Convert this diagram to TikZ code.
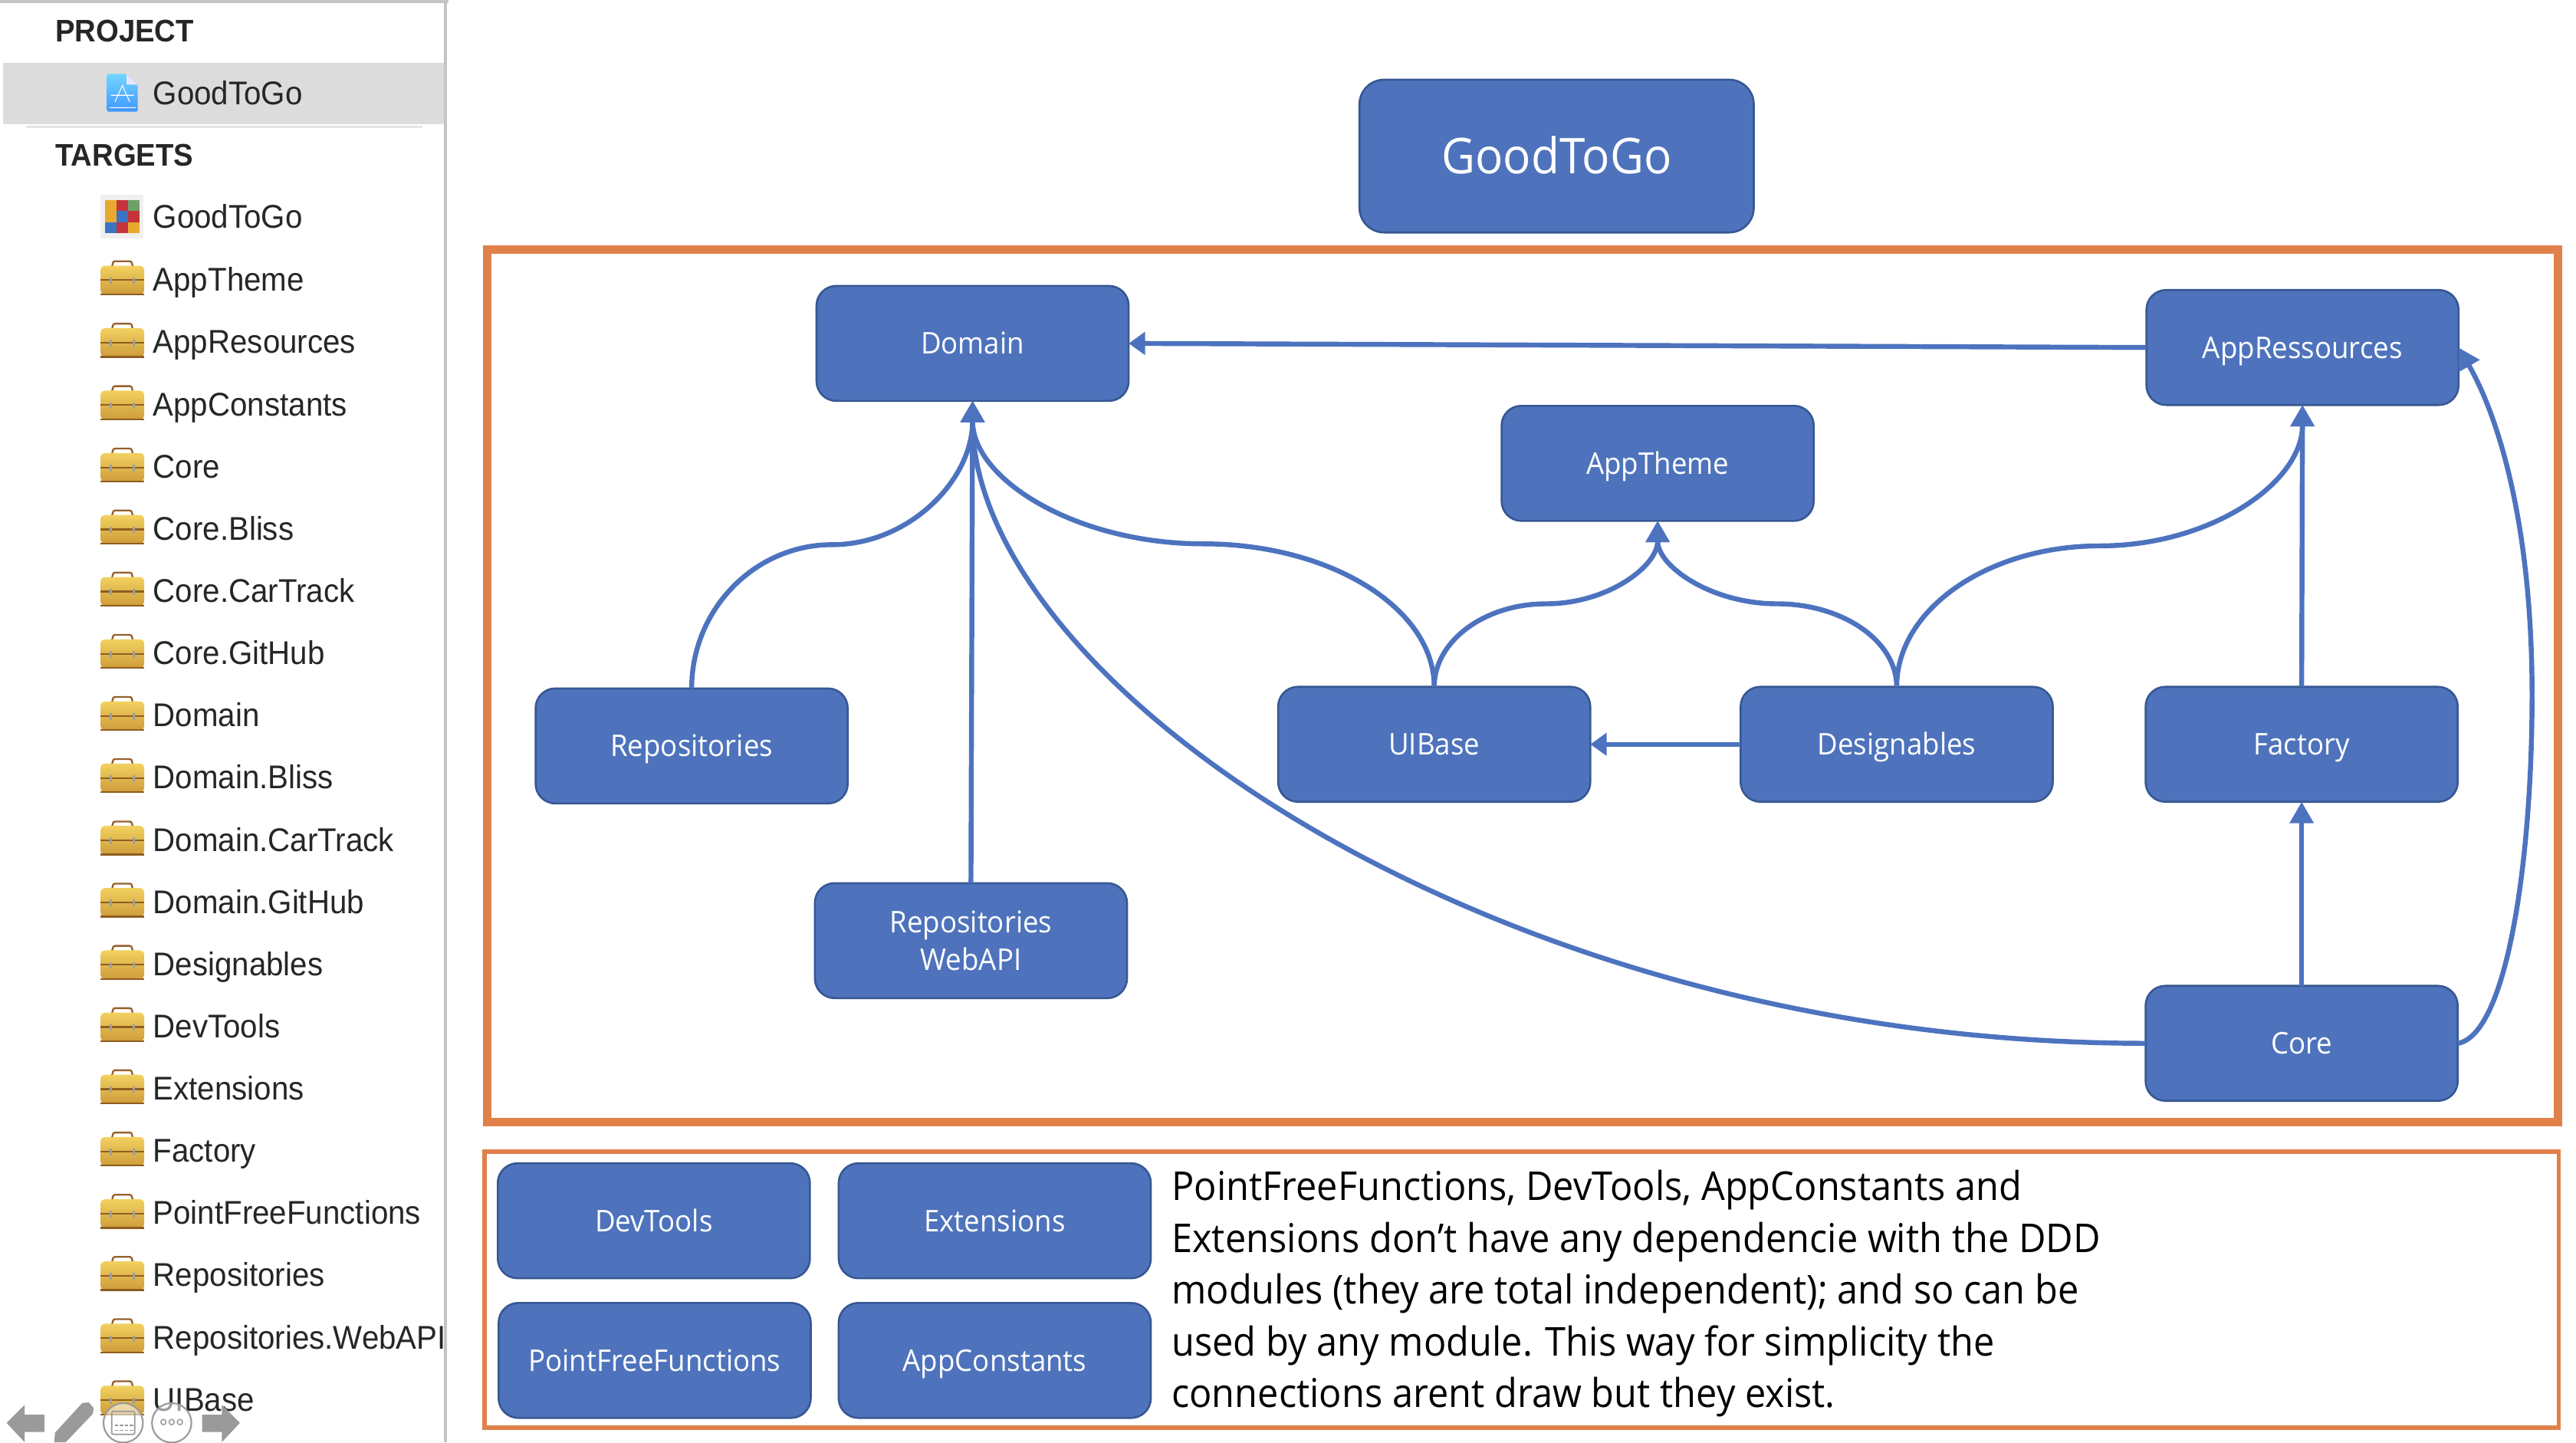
\documentclass[tikz,border=0pt]{standalone}
\usepackage{fontspec}
\setmainfont[FakeStretch=0.94]{Open Sans}
\newfontfamily\sidefont[FakeStretch=0.94]{Liberation Sans}
\usetikzlibrary{calc,arrows.meta}
\definecolor{modfill}{HTML}{4E73BC}
\definecolor{modedge}{HTML}{365792}
\definecolor{lineblue}{HTML}{4D73BF}
\definecolor{frameorange}{HTML}{E0814A}
\definecolor{sidegray}{HTML}{C4C4C4}
\definecolor{selgray}{HTML}{DCDCDC}
\definecolor{tbgray}{HTML}{9A9A9A}
\definecolor{boxtop}{HTML}{F2D160}
\definecolor{boxbot}{HTML}{CE9C3A}
\definecolor{boxband}{HTML}{8E5E20}
\definecolor{boxhandle}{HTML}{96612B}
\tikzset{
  modbase/.style={draw=modedge,fill=modfill,line width=1.2pt,rounded corners=12pt,minimum width=190pt,minimum height=70pt,text=white,font=\fontsize{18.2}{23}\selectfont,align=center,outer sep=0pt,inner sep=0pt},
  module/.style={modbase,text height=13pt,text depth=0pt},
  conn/.style={draw=lineblue,line width=3pt,-{Triangle[length=13pt,width=14pt]}},
  connh/.style={draw=lineblue,line width=3pt,-{Triangle[length=10pt,width=13.5pt]}},
  sidetext/.style={anchor=base west,inner sep=0pt,text=black!85,font=\sidefont\fontsize{20}{24}\selectfont},
  sidehead/.style={anchor=base west,inner sep=0pt,text=black!85,font=\sidefont\bfseries\fontsize{19}{24}\selectfont},
  toolbox/.pic={
    \draw[draw=boxhandle,line width=1.1pt,rounded corners=1pt] (-6.5,-7) -- (-5.5,-11) -- (5.5,-11) -- (6.5,-7);
    \shade[top color=boxtop,bottom color=boxbot,rounded corners=2.5pt] (-13.3,9.2) rectangle (13.3,-8.3);
    \fill[boxband] (-13.3,0) rectangle (13.3,1);
    \fill[boxband] (-13.3,8.6) rectangle (13.3,9.7);
    \fill[gray!75] (-7.8,-1.2) rectangle (-6.3,2.8);
    \fill[gray!75] (6.3,-1.2) rectangle (7.8,2.8);
  },
}
\newcommand{\scurve}[3]{\draw[conn] (#1) .. controls ($(#1)!.55!(#1|-#2)$) and ($(#2)!.55!(#1|-#2)$) .. (#2) .. controls ($(#2)!.55!(#3|-#2)$) and ($(#3)!.55!(#3|-#2)$) .. (#3);}
\begin{document}
\begin{tikzpicture}[x=1pt,y=-1pt]
\useasboundingbox (0,0) rectangle (1568,877.8);
\fill[white] (0,0) rectangle (1568,877.8);
% sidebar
\fill[sidegray] (0,0.2) rectangle (273,1.8);
\fill[sidegray] (270.2,0) rectangle (272,877.8);
\fill[selgray] (2,38.5) rectangle (270.2,75.5);
\fill[black!10] (16,76.4) rectangle (257,78);
\node[sidehead] (hproj) at (33.5,25.5) {PROJECT};
\node[sidehead] (htarg) at (33.5,101) {TARGETS};
\node[sidetext] (sproj) at (93,63.5) {GoodToGo};
% project icon
\shade[top color=blue!30!cyan!55!white,bottom color=blue!55!cyan!75!white,rounded corners=1pt] (65.2,45) -- (77,45) -- (83.8,51.5) -- (83.8,68) -- (65.2,68) -- cycle;
\fill[white!90!blue] (77,45) -- (83.8,51.5) -- (77,51.5) -- cycle;
\draw[white,line width=0.5pt] (66.5,65.5) -- (82.5,65.5) (70,62) -- (74.5,52) -- (79,62) (67.5,58) -- (81.5,58);
% targets
\fill[black!6] (61.1,118.5) rectangle (87.3,145);
\foreach \c [count=\i from 0] in {E8A92F,C4343A,6FA068,E8A92F,3B74C4,C4343A,3B74C4,C4343A,E8A92F}{
  \definecolor{cellc}{HTML}{\c}
  \pgfmathsetmacro{\cx}{64.1+7*mod(\i,3)}
  \pgfmathsetmacro{\cy}{121.8+6.7*floor(\i/3)}
  \fill[cellc] (\cx,\cy) rectangle ++(6.9,6.6);
}
\node[sidetext] (s0) at (93,139) {GoodToGo};
\foreach \t/\yy [count=\n] in {AppTheme/170,AppResources/208,AppConstants/246,Core/284,Core.Bliss/321.7,Core.CarTrack/359.5,Core.GitHub/397.4,Domain/435.2,Domain.Bliss/473,Domain.CarTrack/511,Domain.GitHub/548.8,Designables/586.7,DevTools/624.6,Extensions/662.4,Factory/700.3,PointFreeFunctions/738.2,Repositories/776,Repositories.WebAPI/813.9,UIBase/851.7}{
  \pic at (74.5,\yy) {toolbox};
  \node[sidetext] (s\n) at (93,\yy+7) {\t};
}
% bottom toolbar
\fill[tbgray] (4,866) -- (15,855) -- (15,861) -- (27,861) -- (27,871.5) -- (15,871.5) -- (15,877.8) -- cycle;
\fill[tbgray] (50,854) -- (54,853.5) -- (57,857) -- (56.5,860.5) -- (40,877.8) -- (33,877.8) -- (33.5,872) -- cycle;
\fill[white,opacity=0.55] (75,866) circle (12);
\draw[tbgray,line width=1pt] (75,866) circle (12);
\draw[tbgray,line width=0.8pt,rounded corners=1pt] (68,859) rectangle (82,873);
\draw[tbgray,line width=0.8pt,dash pattern=on 2pt off 1pt] (70,867.5) -- (81,867.5) (70,870.5) -- (81,870.5);
\fill[white,opacity=0.55] (104.5,866) circle (12);
\draw[tbgray,line width=1pt] (104.5,866) circle (12);
\foreach \d in {-5,0,5}{\draw[tbgray,line width=0.7pt] (104.5+\d,865.5) circle (1.6);}
\fill[tbgray] (146,866) -- (135,855) -- (135,861) -- (123,861) -- (123,871.5) -- (135,871.5) -- (135,877.8) -- cycle;
% frames
\draw[frameorange,line width=5pt] (296.5,152) rectangle (1557,683);
\draw[frameorange,line width=2.5pt] (295,701) rectangle (1557.5,869);
% top module
\node[module,minimum width=240pt,minimum height=93pt,rounded corners=15pt,font=\fontsize{30}{34}\selectfont,text height=21pt] (app) at (947.5,95) {GoodToGo};
% modules
\node[module] (dom) at (592,209) {Domain};
\node[module] (res) at (1401.5,211.5) {AppRessources};
\node[module] (theme) at (1009,282) {AppTheme};
\node[module] (rep) at (421,454) {Repositories};
\node[module] (ui) at (873,453) {UIBase};
\node[module] (des) at (1154.5,453) {Designables};
\node[module] (fac) at (1401,453) {Factory};
\node[modbase] (web) at (591,572.5) {Repositories\\[-0.5pt]WebAPI};
\node[module] (core) at (1401,635) {Core};
\node[module] (dev) at (398,743) {DevTools};
\node[module] (ext) at (605.5,743) {Extensions};
\node[module] (pff) at (398.5,828) {PointFreeFunctions};
\node[module] (cst) at (605.5,828) {AppConstants};
% paragraph
\node[anchor=north west,inner sep=0pt,align=left,text=black,font=\fontsize{24.2}{31.5}\selectfont] (para) at (713,712.2) {PointFreeFunctions, DevTools, AppConstants and\\Extensions don’t have any dependencie with the DDD\\modules (they are total independent); and so can be\\used by any module. This way for simplicity the\\connections arent draw but they exist.};
% midpoints
\coordinate (m1) at ($(rep.north)!.5!(dom.south)$);
\coordinate (m2) at ($(ui.north)!.5!(dom.south)$);
\coordinate (m3) at ($(ui.north)!.5!(theme.south)$);
\coordinate (m4) at ($(des.north)!.5!(theme.south)$);
\coordinate (m5) at ($(des.north)!.5!(res.south)$);
\coordinate (m6) at ($(core.east)!.5!(res.east)+(45,0)$);
% connectors
\draw[connh] (res.west) -- (dom.east);
\draw[conn] (web.north) -- (dom.south);
\scurve{rep.north}{m1}{dom.south}
\scurve{ui.north}{m2}{dom.south}
\draw[conn] (core.west) .. controls +(-400,0) and +(0,170) .. (dom.south);
\scurve{ui.north}{m3}{theme.south}
\scurve{des.north}{m4}{theme.south}
\scurve{des.north}{m5}{res.south}
\draw[conn] (fac.north) -- (res.south);
\draw[connh] (des.west) -- (ui.east);
\draw[conn] (core.north) -- (fac.south);
\draw[conn] (core.east) .. controls +(30,-5) and +(0,100) .. (m6) .. controls +(0,-110) and +(22,38) .. (res.east);
\end{tikzpicture}
\end{document}
